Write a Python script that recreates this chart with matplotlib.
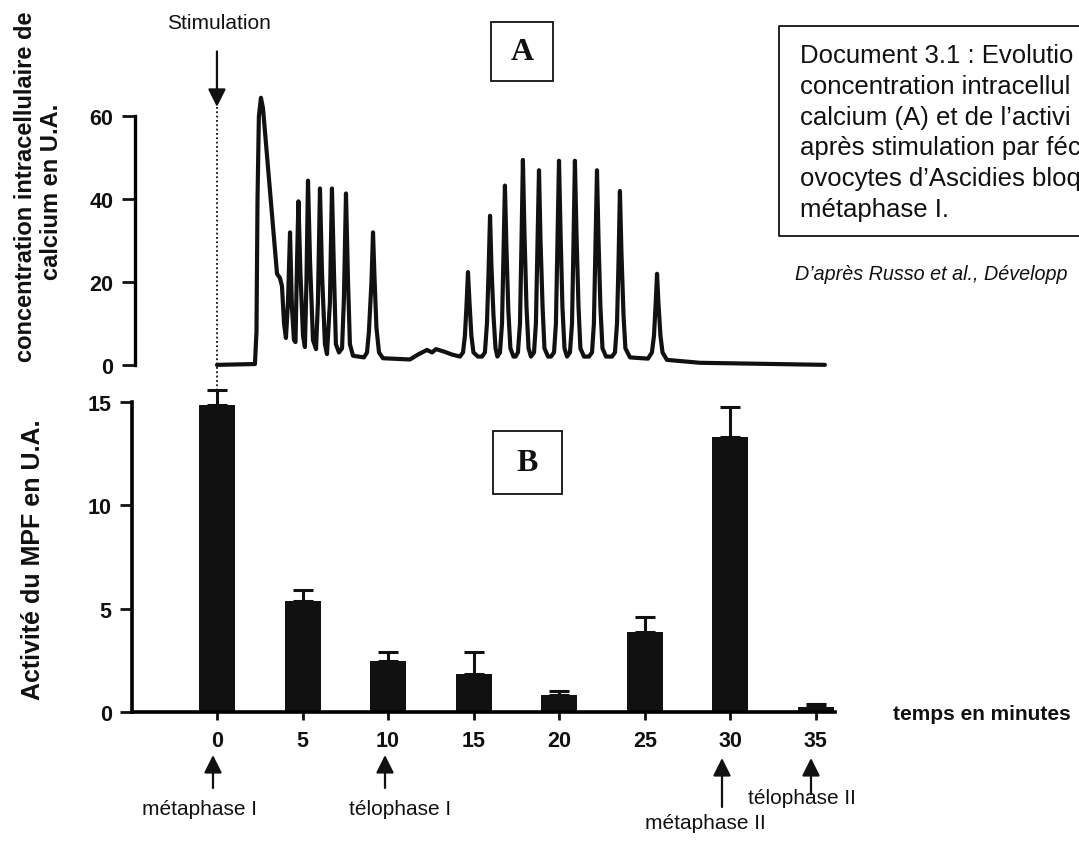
"""Calcium trace (A) and MPF activity (B) after fertilisation of ascidian oocytes.

Writes out.png (1079x845).
"""

import matplotlib

matplotlib.use("Agg")
import matplotlib.pyplot as plt
from matplotlib.lines import Line2D
from matplotlib.patches import FancyArrowPatch, Rectangle

W, H = 1079, 845
DPI = 100
INK = "#111111"

# --- panel A: intracellular calcium (min, U.A.) ---
ca_time = [
    0.00, 2.22, 2.31, 2.37, 2.45, 2.57, 2.69, 3.10, 3.51, 3.68, 3.80, 3.92,
    4.03, 4.15, 4.27, 4.38, 4.50, 4.59, 4.68, 4.76, 4.88, 5.03, 5.14, 5.23,
    5.32, 5.44, 5.61, 5.79, 5.90, 6.02, 6.14, 6.31, 6.43, 6.60, 6.72, 6.84,
    6.95, 7.13, 7.31, 7.42, 7.54, 7.66, 7.77, 7.95, 8.59,
    8.77, 8.88, 9.03, 9.12, 9.20, 9.32, 9.47, 9.70,
    11.28, 11.75, 12.27, 12.57, 12.80, 13.27, 13.73, 14.20,
    14.38, 14.49, 14.58, 14.67, 14.76, 14.87, 14.99, 15.25, 15.49,
    15.66, 15.78, 15.87, 15.96, 16.04, 16.16, 16.28, 16.39,
    16.54, 16.66, 16.74, 16.83, 16.92, 17.03, 17.15, 17.33, 17.45,
    17.59, 17.71, 17.80, 17.88, 17.97, 18.09, 18.21, 18.35,
    18.53, 18.64, 18.73, 18.82, 18.91, 19.03, 19.14, 19.35, 19.52,
    19.70, 19.81, 19.90, 19.99, 20.08, 20.19, 20.31, 20.46,
    20.63, 20.75, 20.84, 20.92, 21.01, 21.13, 21.24, 21.45, 21.74,
    21.92, 22.03, 22.12, 22.21, 22.30, 22.41, 22.53, 22.74, 23.09,
    23.26, 23.38, 23.47, 23.55, 23.64, 23.76, 23.87, 24.14, 25.19,
    25.42, 25.54, 25.63, 25.72, 25.80, 25.92, 26.04, 26.30, 28.23, 35.53,
]
ca_value = [
    0.0, 0.2, 8.0, 40.0, 60.0, 64.5, 62.0, 42.0, 22.0, 21.0, 19.0, 10.0,
    6.5, 15.0, 32.0, 14.0, 6.0, 5.5, 25.0, 39.5, 22.0, 7.0, 4.3, 20.0,
    44.5, 25.0, 6.0, 3.8, 15.0, 42.6, 22.0, 5.0, 2.6, 15.0, 42.6, 22.0,
    5.0, 3.0, 4.0, 16.0, 41.4, 20.0, 5.0, 2.2, 1.8,
    3.0, 8.0, 20.0, 32.0, 22.0, 9.0, 3.0, 1.6,
    1.3, 2.5, 3.6, 3.0, 3.8, 3.2, 2.5, 2.0,
    3.0, 7.0, 14.0, 22.4, 15.0, 7.0, 3.0, 2.0, 2.0,
    3.0, 10.0, 22.0, 36.0, 24.0, 12.0, 4.0, 2.0,
    3.0, 10.0, 26.0, 43.3, 28.0, 13.0, 4.0, 2.0, 2.0,
    3.0, 10.0, 30.0, 49.5, 32.0, 14.0, 4.0, 2.0,
    3.0, 10.0, 28.0, 47.0, 30.0, 14.0, 4.0, 2.0, 2.0,
    3.0, 10.0, 30.0, 49.3, 32.0, 14.0, 4.0, 2.0,
    3.0, 10.0, 30.0, 49.3, 32.0, 14.0, 4.0, 2.0, 2.0,
    3.0, 10.0, 28.0, 47.0, 30.0, 14.0, 4.0, 2.0, 2.0,
    3.0, 10.0, 25.0, 42.0, 27.0, 12.0, 4.0, 1.8, 1.5,
    3.0, 7.0, 14.0, 22.0, 15.0, 7.0, 3.0, 1.2, 0.5, 0.0,
]
ca_ticks = [0, 20, 40, 60]

# --- panel B: MPF activity (U.A.), mean + upper error ---
mpf_time = [0, 5, 10, 15, 20, 25, 30, 35]
mpf_value = [14.85, 5.35, 2.45, 1.85, 0.8, 3.85, 13.3, 0.25]
mpf_err = [0.75, 0.55, 0.45, 1.05, 0.2, 0.75, 1.45, 0.15]
mpf_ticks = [0, 5, 10, 15]

phase_labels = ["métaphase I", "télophase I", "métaphase II", "télophase II"]

caption = [
    "Document 3.1 : Evolutio",
    "concentration intracellul",
    "calcium (A) et de l’activi",
    "après stimulation par féc",
    "ovocytes d’Ascidies bloq",
    "métaphase I.",
]
source = "D’après Russo et al., Développ"


def fx(px):
    return px / W


def fy(py):
    return 1 - py / H


plt.rcParams["font.family"] = ["Liberation Sans", "DejaVu Sans"]

fig = plt.figure(figsize=(W / DPI, H / DPI), dpi=DPI, facecolor="white")

# ---------------- panel A ----------------
ax_a = fig.add_axes([fx(135), fy(370), 700 / W, (370 - 92.6) / H])
ax_a.patch.set_visible(False)
ax_a.plot(ca_time, ca_value, color=INK, lw=3.0, solid_joinstyle="round",
          solid_capstyle="round")
ax_a.set_xlim(-4.79, 36.12)
ax_a.set_ylim(-1, 66)
for s in ("top", "right", "bottom"):
    ax_a.spines[s].set_visible(False)
ax_a.spines["left"].set_bounds(0, 60)
ax_a.spines["left"].set_linewidth(2.4)
ax_a.set_xticks([])
ax_a.set_yticks(ca_ticks, labels=[str(v) for v in ca_ticks],
                fontweight="bold", fontsize=15.5)
ax_a.tick_params(axis="y", length=9.4, width=2, pad=6, colors=INK)

# stimulation arrow + dotted marker down to panel B
ax_a.annotate("", xy=(0, 62.3), xytext=(0, 75.7),
              arrowprops=dict(arrowstyle="-|>,head_length=0.6,head_width=0.3",
                              color=INK, lw=1.6, shrinkA=0, shrinkB=0,
                              mutation_scale=18),
              annotation_clip=False)
ax_a.plot([0, 0], [62.3, -6.1], ls=(0, (1, 1.4)), lw=1.3, color=INK,
          clip_on=False)
fig.text(fx(219), fy(29), "Stimulation", ha="center", va="baseline",
         fontsize=15, color=INK)

# ---------------- panel B ----------------
ax_b = fig.add_axes([fx(132), fy(713), 703 / W, (713 - 388.5) / H])
ax_b.patch.set_visible(False)
ax_b.bar(mpf_time, mpf_value, width=2.1, color=INK, zorder=3)
ax_b.errorbar(mpf_time, mpf_value, yerr=[[0] * len(mpf_err), mpf_err],
              fmt="none", ecolor=INK, elinewidth=2.2, capsize=7, capthick=2.2,
              zorder=3)
ax_b.set_xlim(-4.97, 36.12)
ax_b.set_ylim(0, 15.7)
for s in ("top", "right"):
    ax_b.spines[s].set_visible(False)
ax_b.spines["left"].set_bounds(0, 15)
for s in ("left", "bottom"):
    ax_b.spines[s].set_linewidth(2.6)
    ax_b.spines[s].set_zorder(4)
ax_b.set_xticks(mpf_time, labels=[str(v) for v in mpf_time],
                fontweight="bold", fontsize=15.5)
ax_b.set_yticks(mpf_ticks, labels=[str(v) for v in mpf_ticks],
                fontweight="bold", fontsize=15.5)
ax_b.tick_params(axis="x", length=6, width=2, pad=7, colors=INK)
ax_b.tick_params(axis="y", length=8.6, width=2, pad=6, colors=INK)

fig.text(fx(893), fy(715), "temps en minutes", ha="left", va="center",
         fontsize=15, fontweight="bold", color=INK)

# phase arrows under the time axis (x px, tip y, tail y) and their labels
arrows = [(213, 756, 789), (385, 756, 789), (722, 759, 808), (811, 759, 795)]
label_pos = [(200, 810), (400, 810), (705, 824), (802, 799)]
for (x, y0, y1), (lx, ly), name in zip(arrows, label_pos, phase_labels):
    fig.add_artist(FancyArrowPatch(
        (fx(x), fy(y1)), (fx(x), fy(y0)), transform=fig.transFigure,
        arrowstyle="-|>,head_length=0.6,head_width=0.3", mutation_scale=18,
        color=INK, lw=1.6, shrinkA=0, shrinkB=0))
    fig.text(fx(lx), fy(ly), name, ha="center", va="center", fontsize=15,
             color=INK)

# ---------------- axis titles ----------------
fig.text(fx(26), fy(187), "concentration intracellulaire de", rotation=90,
         ha="center", va="center", fontsize=17, fontweight="bold", color=INK)
fig.text(fx(52), fy(192), "calcium en U.A.", rotation=90,
         ha="center", va="center", fontsize=17, fontweight="bold", color=INK)
fig.text(fx(33.5), fy(560), "Activité du MPF en U.A.", rotation=90,
         ha="center", va="center", fontsize=18, fontweight="bold", color=INK)

# ---------------- panel tags ----------------
for (x0, y0, x1, y1), tag in [((491, 23, 553, 82), "A"),
                              ((493, 432, 562, 495), "B")]:
    fig.add_artist(Rectangle((fx(x0), fy(y1)), (x1 - x0) / W, (y1 - y0) / H,
                             transform=fig.transFigure, fill=False,
                             lw=1.3, edgecolor=INK))
    fig.text(fx((x0 + x1) / 2), fy((y0 + y1) / 2), tag, ha="center",
             va="center", fontsize=23, fontweight="bold",
             family="Liberation Serif", color=INK)

# ---------------- caption box (cut by the right edge) ----------------
fig.add_artist(Line2D([fx(1079), fx(779), fx(779), fx(1079)],
                      [fy(27), fy(27), fy(237), fy(237)],
                      transform=fig.transFigure, lw=1.3, color=INK))
for i, line in enumerate(caption):
    fig.text(fx(800), fy(63 + i * 30.8), line, ha="left", va="baseline",
             fontsize=18.5, color=INK)
fig.text(fx(795), fy(280), source, ha="left", va="baseline", fontsize=14.2,
         style="italic", color=INK)

fig.savefig("out.png", dpi=DPI, facecolor="white")
